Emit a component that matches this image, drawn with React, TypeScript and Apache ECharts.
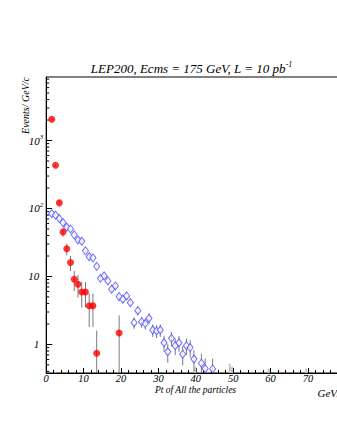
import React, { useEffect, useRef } from "react";
import * as echarts from "echarts";

// Data (red points): Pt bin centres, Events/GeV, errors
const redX = [1.5, 2.5, 3.5, 4.5, 5.5, 6.5, 7.5, 8.5, 9.5, 10.5, 11.5, 12.5, 13.5, 19.5];
const redY = [2056, 433, 121, 45, 25.5, 16, 9.1, 7.7, 5.9, 5.9, 3.7, 3.7, 0.74, 1.47];
const redErr = [45, 21, 11, 6.7, 5.0, 4.0, 3.0, 2.8, 2.4, 2.4, 1.9, 1.9, 0.86, 1.2];

// Monte Carlo (blue open diamonds)
const mcX = [
  1.5, 2.5, 3.5, 4.5, 5.5, 6.5, 7.5, 8.5, 9.5, 10.5, 11.5, 12.5, 13.5, 14.5, 15.5, 16.5, 17.5, 18.5,
  19.5, 20.5, 21.5, 22.5, 23.5, 24.5, 25.5, 26.5, 27.5, 28.5, 29.5, 30.5, 31.5, 32.5, 33.5, 34.5,
  35.5, 36.5, 37.5, 38.5, 39.5, 41.5, 42.5, 44.5,
];
const mcY = [
  84, 80, 71, 62, 53, 50, 41, 34.4, 33, 23.8, 19.5, 18.8, 14.1, 9.4, 10.2, 8.6, 6.5, 7.25,
  5.05, 4.65, 5.17, 4.12, 2.09, 3.14, 2.16, 2.03, 2.43, 1.63, 1.58, 1.63, 1.06, 0.78, 1.23, 0.96,
  1.06, 0.72, 0.96, 0.9, 0.61, 0.53, 0.44, 0.436,
];
const mcErr = [
  2.5, 2.4, 2.3, 2.1, 2.0, 1.9, 1.7, 1.6, 1.55, 1.3, 1.2, 1.15, 1.0, 0.83, 0.86, 0.8, 0.69, 0.73,
  0.6, 0.58, 0.61, 0.55, 0.39, 0.48, 0.4, 0.38, 0.42, 0.34, 0.34, 0.34, 0.28, 0.24, 0.3, 0.26,
  0.28, 0.23, 0.26, 0.26, 0.21, 0.2, 0.18, 0.18,
];

// Faint error-bar stubs rising from the bottom axis
const faintX = [39.9, 49.1, 49.7, 59.5, 69.5];
const faintTop = [0.47, 0.52, 0.47, 0.44, 0.44];

const xTicks = [0, 10, 20, 30, 40, 50, 60, 70, 80];
const yMin = 0.38;
const yMax = 8600;

const FONT = "Liberation Serif";

export default function App() {
  const ref = useRef<HTMLDivElement>(null);
  useEffect(() => {
    if (!ref.current) return;
    const chart = echarts.init(ref.current, undefined, { renderer: "svg" });

    const errData = (xs: number[], ys: number[], es: number[]) =>
      xs.map((x, i) => [x, Math.max(ys[i] - es[i], yMin), ys[i] + es[i]]);

    const minorVals: number[][] = [];
    for (let k = -1; k <= 3; k++) {
      for (let m = 2; m <= 9; m++) {
        const v = m * Math.pow(10, k);
        if (v > yMin && v < yMax) minorVals.push([0, v]);
      }
    }

    const errRender = (color: string, width: number) => (params: any, api: any) => {
      const x = api.value(0);
      const p1 = api.coord([x, api.value(1)]);
      const p2 = api.coord([x, api.value(2)]);
      return {
        type: "line",
        shape: { x1: p1[0], y1: p1[1], x2: p2[0], y2: p2[1] },
        style: { stroke: color, lineWidth: width },
      };
    };

    const labelRich = {
      b: { fontSize: 11, fontStyle: "italic", fontFamily: FONT, color: "#000" },
      s: { fontSize: 7, fontStyle: "italic", fontFamily: FONT, color: "#000", padding: [0, 0, 7, 0] },
      p: { width: 4 },
    };

    chart.setOption({
      animation: false,
      backgroundColor: "#fff",
      grid: {
        left: 46.2,
        top: 77,
        width: 299.2,
        height: 296,
        show: true,
        borderColor: "#000",
        borderWidth: 1,
      },
      xAxis: {
        type: "value",
        min: xTicks[0],
        max: xTicks[xTicks.length - 1],
        interval: 10,
        axisLine: { lineStyle: { color: "#000", width: 1 } },
        axisTick: { inside: true, length: 5, lineStyle: { color: "#000" } },
        minorTick: { show: true, splitNumber: 5, length: 3, lineStyle: { color: "#000" } },
        splitLine: { show: false },
        axisLabel: {
          margin: 0,
          fontFamily: FONT,
          fontStyle: "italic",
          fontSize: 10.5,
          lineHeight: 11,
          color: "#000",
          showMaxLabel: false,
        },
      },
      yAxis: {
        type: "log",
        logBase: 10,
        min: yMin,
        max: yMax,
        axisLine: { show: true, lineStyle: { color: "#000", width: 1 } },
        axisTick: { inside: true, length: 6, lineStyle: { color: "#000" } },
        splitLine: { show: false },
        axisLabel: {
          margin: 3,
          showMinLabel: false,
          showMaxLabel: false,
          formatter: (v: number) => {
            const lg = Math.log10(v);
            const k = Math.round(lg);
            if (Math.abs(lg - k) > 1e-6) return "";
            if (k === 0) return "{b|1}{p| }";
            if (k === 1) return "{b|10}{p| }";
            return "{b|10}{s|" + k + "}";
          },
          rich: labelRich,
        },
      },
      graphic: [
        {
          type: "text",
          x: 191.5,
          y: 68,
          style: {
            text: "{a|LEP200, Ecms = 175 GeV, L = 10 pb}{s|-1}",
            textAlign: "center",
            textVerticalAlign: "middle",
            rich: {
              a: { fontSize: 13, fontStyle: "italic", fontFamily: FONT, fill: "#000" },
              s: { fontSize: 8, fontStyle: "italic", fontFamily: FONT, fill: "#000", padding: [0, 0, 8, 0] },
            },
          },
        },
        {
          type: "text",
          x: 195.5,
          y: 385,
          style: {
            text: "Pt of All the particles",
            font: `italic 9.5px "${FONT}"`,
            fill: "#000",
            textAlign: "center",
            textVerticalAlign: "top",
          },
        },
        {
          type: "text",
          x: 25,
          y: 77,
          rotation: Math.PI / 2,
          style: {
            text: "Events/ GeV/c",
            font: `italic 10px "${FONT}"`,
            fill: "#000",
            textAlign: "right",
            textVerticalAlign: "middle",
          },
        },
        {
          type: "text",
          x: 345,
          y: 393,
          style: {
            text: "GeV/c",
            font: `italic 11px "${FONT}"`,
            fill: "#000",
            textAlign: "right",
            textVerticalAlign: "middle",
          },
        },
      ],
      series: [
        {
          type: "custom",
          name: "minorY",
          renderItem: (params: any, api: any) => {
            const p = api.coord([0, api.value(1)]);
            return {
              type: "line",
              shape: { x1: p[0], y1: p[1], x2: p[0] + 3, y2: p[1] },
              style: { stroke: "#000", lineWidth: 1 },
            };
          },
          data: minorVals,
          silent: true,
          z: 1,
        },
        {
          type: "custom",
          name: "faint",
          renderItem: errRender("#c4c4c4", 2),
          data: faintX.map((x, i) => [x, yMin, faintTop[i]]),
          silent: true,
          z: 1,
        },
        {
          type: "custom",
          name: "mcErr",
          renderItem: errRender("#7a7a7a", 1),
          data: errData(mcX, mcY, mcErr),
          silent: true,
          z: 2,
        },
        {
          type: "custom",
          name: "redErr",
          renderItem: errRender("#7a7a7a", 1),
          data: errData(redX, redY, redErr),
          silent: true,
          z: 2,
        },
        {
          type: "scatter",
          name: "MC",
          data: mcX.map((x, i) => [x, mcY[i]]),
          symbol: "diamond",
          symbolSize: [6, 8],
          itemStyle: { color: "#fff", borderColor: "#4646ff", borderWidth: 1 },
          z: 3,
        },
        {
          type: "scatter",
          name: "Data",
          data: redX.map((x, i) => [x, redY[i]]),
          symbol: "circle",
          symbolSize: 7,
          itemStyle: { color: "#ff0000" },
          z: 4,
        },
      ],
    });
    return () => chart.dispose();
  }, []);

  return (
    <div style={{ position: "fixed", left: 0, top: 0, width: 337, height: 436, overflow: "hidden", background: "#fff" }}>
      <div ref={ref} style={{ width: 360, height: 436 }} />
    </div>
  );
}
